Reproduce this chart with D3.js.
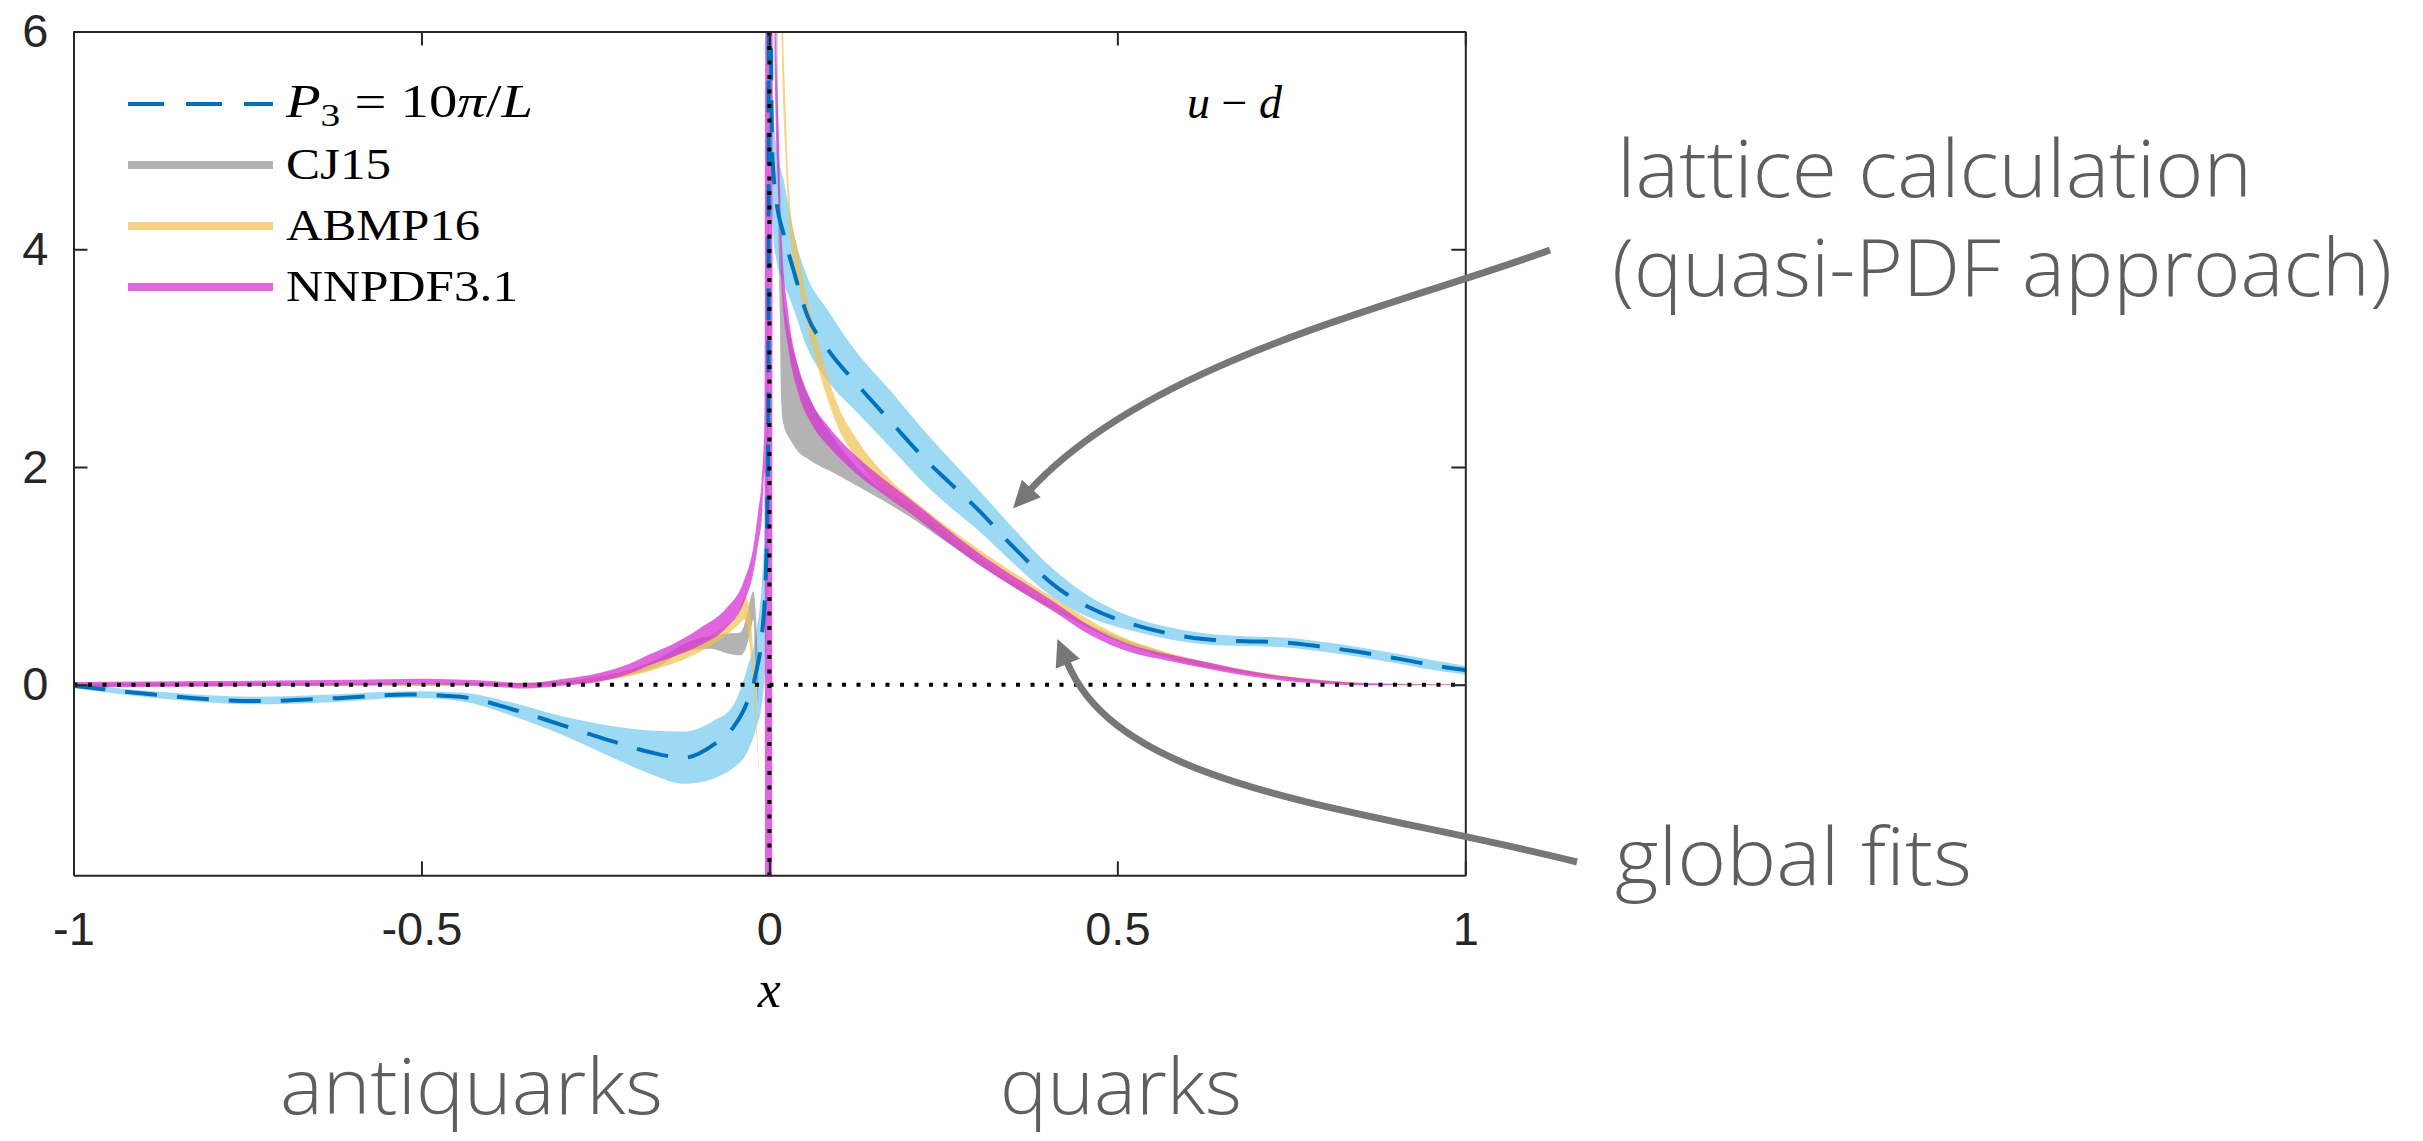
<!DOCTYPE html>
<html>
<head>
<meta charset="utf-8">
<script src="https://cdnjs.cloudflare.com/ajax/libs/d3/7.8.5/d3.min.js"></script>
<style>
  body { margin: 0; background: #fff; }
  svg { display: block; }
</style>
</head>
<body>
<div id="chart-area"></div>
<script>

// ---- data ----
var xTicks = [-1, -0.5, 0, 0.5, 1];
var yTicks = [0, 2, 4, 6];

// lattice (quasi-PDF), P3 = 10pi/L
var latX   = [-1, -0.885, -0.738, -0.628, -0.518, -0.445, -0.372, -0.298, -0.225, -0.171,
              -0.123, -0.08, -0.053, -0.032, -0.02, -0.0102, -0.0055, -0.003, -0.0016, 0,
              0.001, 0.002, 0.004, 0.01, 0.02, 0.035, 0.054, 0.083, 0.126, 0.174,
              0.227, 0.26, 0.298, 0.353, 0.408, 0.463, 0.518, 0.573, 0.628, 0.683,
              0.738, 0.793, 0.848, 0.903, 0.958, 1];
var latMid = [-0.01, -0.09, -0.15, -0.125, -0.09, -0.11, -0.22, -0.37, -0.52, -0.62,
              -0.67, -0.55, -0.40, -0.16, 0.09, 0.49, 0.95, 1.56, 2.48, 12,
              8.5, 6.5, 4.9, 4.45, 4.15, 3.8, 3.4, 3.09, 2.76, 2.42,
              2.05, 1.85, 1.62, 1.25, 0.92, 0.70, 0.564, 0.472, 0.417, 0.40,
              0.39, 0.35, 0.30, 0.24, 0.175, 0.135];
var latLo  = [-0.03, -0.12, -0.18, -0.16, -0.12, -0.15, -0.28, -0.46, -0.67, -0.82,
              -0.91, -0.86, -0.77, -0.62, -0.42, -0.15, 0.25, 0.8, 1.8, 10,
              6, 5.2, 4.3, 3.9, 3.7, 3.45, 3.1, 2.8, 2.5, 2.18,
              1.82, 1.63, 1.43, 1.1, 0.8, 0.61, 0.5, 0.42, 0.37, 0.355,
              0.345, 0.305, 0.255, 0.195, 0.13, 0.095];
var latHi  = [0.01, -0.06, -0.11, -0.09, -0.06, -0.07, -0.16, -0.29, -0.38, -0.42,
              -0.43, -0.33, -0.2, 0.15, 0.45, 1.0, 1.8, 3.0, 5.0, 14,
              10, 8, 5.6, 4.95, 4.65, 4.15, 3.75, 3.45, 3.05, 2.7,
              2.3, 2.07, 1.81, 1.42, 1.06, 0.8, 0.63, 0.53, 0.47, 0.445,
              0.435, 0.395, 0.345, 0.285, 0.22, 0.175];

// CJ15
var cjX  = [-1, -0.6, -0.4, -0.3, -0.25, -0.2, -0.15, -0.124, -0.085, -0.061,
            -0.042, -0.033, -0.027, -0.023, -0.02, -0.016, 0, 0.008, 0.012, 0.015,
            0.017, 0.02, 0.03, 0.04, 0.054, 0.1, 0.15, 0.2, 0.25, 0.3,
            0.4, 0.5, 0.6, 0.7, 0.8, 0.9, 1];
var cjLo = [-0.01, -0.01, -0.01, 0.0, 0.03, 0.09, 0.2, 0.3, 0.33, 0.29,
            0.27, 0.35, 0.5, 0.6, 0.2, -0.2, null, 7, 4.6, 3.4,
            2.6, 2.4, 2.25, 2.15, 2.08, 1.92, 1.74, 1.55, 1.33, 1.11,
            0.72, 0.4, 0.2, 0.09, 0.02, 0, 0];
var cjHi = [0.01, 0.015, 0.015, 0.03, 0.07, 0.14, 0.27, 0.37, 0.45, 0.47,
            0.48, 0.62, 0.8, 0.86, 0.7, 0.1, null, 10, 5.5, 4.3,
            3.9, 3.6, 3.2, 2.95, 2.7, 2.2, 1.85, 1.66, 1.42, 1.17,
            0.75, 0.44, 0.24, 0.11, 0.04, 0.01, 0.005];

// ABMP16
var abX  = [-1, -0.6, -0.4, -0.3, -0.25, -0.2, -0.15, -0.1, -0.065, -0.045,
            -0.035, -0.03, -0.015, 0, 0.015, 0.018, 0.023, 0.03, 0.04, 0.054,
            0.074, 0.0975, 0.126, 0.174, 0.222, 0.3, 0.408, 0.5, 0.6, 0.7,
            0.8, 0.9, 1];
var abLo = [-0.01, -0.01, -0.005, 0.0, 0.03, 0.08, 0.17, 0.3, 0.44, 0.55,
            0.6, 0.45, -0.8, null, 7, 5.8, 4.9, 4.1, 3.75, 3.3,
            2.82, 2.38, 2.07, 1.72, 1.5, 1.13, 0.7, 0.4, 0.2, 0.09,
            0.02, 0, 0];
var abHi = [0.01, 0.01, 0.015, 0.03, 0.07, 0.13, 0.24, 0.39, 0.54, 0.66,
            0.81, 0.75, -0.72, null, 9, 6.6, 5.35, 4.4, 4.02, 3.55,
            3.05, 2.58, 2.25, 1.88, 1.62, 1.25, 0.8, 0.46, 0.25, 0.12,
            0.04, 0.01, 0.005];

// NNPDF3.1
var nnX  = [-1, -0.8, -0.6, -0.5, -0.4, -0.35, -0.3, -0.243, -0.2, -0.172,
            -0.137, -0.1, -0.061, -0.0375, -0.023, -0.016, -0.011, -0.007, -0.005, 0.003,
            0.005, 0.008, 0.0136, 0.0177, 0.027, 0.0415, 0.061, 0.085, 0.123, 0.164,
            0.198, 0.246, 0.298, 0.35, 0.408, 0.463, 0.518, 0.573, 0.628, 0.683,
            0.738, 0.793, 0.848, 0.9, 1];
var nnLo = [-0.025, -0.015, -0.005, 0.005, -0.015, -0.035, -0.01, 0.03, 0.105, 0.18,
            0.26, 0.36, 0.53, 0.74, 1.03, 1.3, 1.52, 1.95, -10, -10,
            7, 5.5, 4.45, 3.65, 3.1, 2.68, 2.39, 2.19, 1.95, 1.75,
            1.595, 1.36, 1.115, 0.9, 0.675, 0.45, 0.3, 0.22, 0.15, 0.085,
            0.038, 0.01, -0.005, -0.005, -0.003];
var nnHi = [0.025, 0.035, 0.045, 0.055, 0.035, 0.015, 0.05, 0.11, 0.195, 0.28,
            0.38, 0.52, 0.71, 0.94, 1.27, 1.6, 1.88, 2.45, 10, 10,
            10, 6.5, 5.05, 4.09, 3.42, 2.92, 2.59, 2.37, 2.11, 1.89,
            1.725, 1.48, 1.225, 1.0, 0.765, 0.53, 0.37, 0.28, 0.21, 0.135,
            0.078, 0.04, 0.015, 0.005, 0.003];

var legendNames = ["CJ15", "ABMP16", "NNPDF3.1"];
var bandColors  = ["#808080", "#f0c050", "#d633d6"];
var bandOpacity = [0.6, 0.7, 0.75];

// ---- layout ----
var W = 2423, H = 1141;
var margin = { left: 73.5, right: 957.7, top: 31.5, bottom: 265.7 },
    width = W - margin.left - margin.right,
    height = H - margin.top - margin.bottom;

var svg = d3.select("#chart-area")
    .append("svg")
    .attr("width", W)
    .attr("height", H);

svg.append("defs").append("clipPath")
    .attr("id", "plot-clip")
    .append("rect")
    .attr("width", width)
    .attr("height", height);

var marker = svg.select("defs").append("marker")
    .attr("id", "head")
    .attr("markerUnits", "userSpaceOnUse")
    .attr("viewBox", "0 -14 28 28")
    .attr("refX", 2)
    .attr("refY", 0)
    .attr("markerWidth", 28)
    .attr("markerHeight", 28)
    .attr("orient", "auto");
marker.append("path")
    .attr("d", "M0,-13L27,0L0,13Z")
    .attr("fill", "#777");

var g = svg.append("g")
    .attr("transform", "translate(" + margin.left + "," + margin.top + ")");

var x = d3.scaleLinear().domain([-1, 1]).range([0, width]);
var y = d3.scaleLinear().domain([-1.75, 6]).range([height, 0]);

function rows(xs, lo, hi) {
    return xs.map(function(v, i) { return { x: v, lo: lo[i], hi: hi[i] }; });
}

var area = d3.area()
    .defined(function(d) { return d.lo != null; })
    .x(function(d) { return x(d.x); })
    .y0(function(d) { return y(d.lo); })
    .y1(function(d) { return y(d.hi); })
    .curve(d3.curveMonotoneX);

var plot = g.append("g").attr("clip-path", "url(#plot-clip)");

// lattice band
plot.append("path")
    .datum(rows(latX, latLo, latHi))
    .attr("d", area)
    .attr("fill", "#5bc0eb")
    .attr("fill-opacity", 0.6);

// global fit bands
var bands = [rows(cjX, cjLo, cjHi), rows(abX, abLo, abHi), rows(nnX, nnLo, nnHi)];
bands.forEach(function(b, i) {
    plot.append("path")
        .datum(b)
        .attr("d", area)
        .attr("fill", bandColors[i])
        .attr("fill-opacity", bandOpacity[i]);
});

// lattice central value
var line = d3.line()
    .x(function(d, i) { return x(latX[i]); })
    .y(function(d) { return y(d); })
    .curve(d3.curveMonotoneX);

plot.append("path")
    .datum(latMid)
    .attr("d", line)
    .attr("fill", "none")
    .attr("stroke", "#0072bd")
    .attr("stroke-width", 4)
    .attr("stroke-dasharray", "32,20");

// dotted zero lines
plot.append("line")
    .attr("x1", x(-1)).attr("x2", x(1))
    .attr("y1", y(0)).attr("y2", y(0))
    .attr("stroke", "#000")
    .attr("stroke-width", 4)
    .attr("stroke-dasharray", "4,10.5");
plot.append("line")
    .attr("x1", x(0)).attr("x2", x(0))
    .attr("y1", y(6)).attr("y2", y(-1.75))
    .attr("stroke", "#000")
    .attr("stroke-width", 4)
    .attr("stroke-dasharray", "4,10.5");

// axes (box with inward ticks)
var fmt = function(d) { return String(d); };

g.append("g")
    .attr("class", "x axis")
    .attr("transform", "translate(0," + height + ")")
    .call(d3.axisBottom(x).tickValues(xTicks).tickSize(-14).tickSizeOuter(0)
        .tickPadding(36).tickFormat(fmt));

g.append("g")
    .attr("class", "x axis")
    .call(d3.axisTop(x).tickValues(xTicks).tickSize(-14).tickSizeOuter(0).tickFormat(""));

g.append("g")
    .attr("class", "y axis")
    .call(d3.axisLeft(y).tickValues(yTicks).tickSize(-14).tickSizeOuter(0)
        .tickPadding(25).tickFormat(fmt));

g.append("g")
    .attr("class", "y axis")
    .attr("transform", "translate(" + width + ",0)")
    .call(d3.axisRight(y).tickValues(yTicks).tickSize(-14).tickSizeOuter(0).tickFormat(""));

g.selectAll(".axis path, .axis line")
    .attr("stroke", "#262626")
    .attr("stroke-width", 2);
g.selectAll(".axis text")
    .attr("fill", "#262626")
    .attr("font-family", "'Liberation Sans', Arial, sans-serif")
    .attr("font-size", "47px");

// x label
g.append("text")
    .attr("x", x(0))
    .attr("y", height + 132)
    .attr("text-anchor", "middle")
    .attr("font-family", "'Liberation Serif', 'DejaVu Serif', serif")
    .attr("font-style", "italic")
    .attr("font-size", "52px")
    .text("x");

// u - d label
var ud = g.append("text")
    .attr("x", 1187 - margin.left)
    .attr("y", 118 - margin.top)
    .attr("font-family", "'Liberation Serif', serif")
    .attr("font-size", "46px");
ud.append("tspan").attr("font-style", "italic").text("u");
ud.append("tspan").text(" \u2212 ");
ud.append("tspan").attr("font-style", "italic").text("d");

// ---- legend ----
var legend = svg.append("g").attr("transform", "translate(128,104)");
var rowH = 61;

legend.append("line")
    .attr("x1", 0).attr("x2", 145)
    .attr("y1", 0).attr("y2", 0)
    .attr("stroke", "#0072bd")
    .attr("stroke-width", 4)
    .attr("stroke-dasharray", "36,22");

var p3 = legend.append("text")
    .attr("x", 158)
    .attr("y", 13)
    .attr("font-family", "'Liberation Serif', serif")
    .attr("font-size", "46px")
    .attr("textLength", 247)
    .attr("lengthAdjust", "spacingAndGlyphs");
p3.append("tspan").attr("font-style", "italic").text("P");
p3.append("tspan").attr("font-size", "32px").attr("dy", 9).text("3");
p3.append("tspan").attr("dy", -9).text(" = 10");
p3.append("tspan").attr("font-style", "italic").text("\u03c0");
p3.append("tspan").text("/");
p3.append("tspan").attr("font-style", "italic").text("L");

var legendWidths = [105, 194, 232];
legendNames.forEach(function(name, i) {
    var yy = (i + 1) * rowH;
    legend.append("line")
        .attr("x1", 0).attr("x2", 145)
        .attr("y1", yy).attr("y2", yy)
        .attr("stroke", bandColors[i])
        .attr("stroke-opacity", bandOpacity[i])
        .attr("stroke-width", 8);
    legend.append("text")
        .attr("x", 158)
        .attr("y", yy + 14)
        .attr("font-family", "'Liberation Serif', serif")
        .attr("font-size", "45px")
        .attr("textLength", legendWidths[i])
        .attr("lengthAdjust", "spacingAndGlyphs")
        .text(name);
});

// ---- annotations ----
var noteFont = "'Open Sans', 'Noto Sans', sans-serif";
var notes = [
    { t: "lattice calculation", x: 1617, y: 197, w: 635, s: 80 },
    { t: "(quasi-PDF approach)", x: 1612, y: 296, w: 780, s: 80 },
    { t: "global fits", x: 1615, y: 885, w: 357, s: 80 },
    { t: "antiquarks", x: 280, y: 1114, w: 383, s: 78 },
    { t: "quarks", x: 1000, y: 1114, w: 242, s: 78 }
];
notes.forEach(function(n) {
    svg.append("text")
        .attr("x", n.x)
        .attr("y", n.y)
        .attr("font-family", noteFont)
        .attr("font-weight", 300)
        .attr("font-size", n.s + "px")
        .attr("fill", "#5e5e5e")
        .attr("textLength", n.w)
        .attr("lengthAdjust", "spacingAndGlyphs")
        .text(n.t);
});

svg.append("path")
    .attr("d", "M1550,250C1400,305 1150,360 1030,490")
    .attr("fill", "none")
    .attr("stroke", "#777")
    .attr("stroke-width", 7)
    .attr("marker-end", "url(#head)");

svg.append("path")
    .attr("d", "M1577,862C1350,805 1120,790 1067,662")
    .attr("fill", "none")
    .attr("stroke", "#777")
    .attr("stroke-width", 7)
    .attr("marker-end", "url(#head)");

</script>
</body>
</html>
